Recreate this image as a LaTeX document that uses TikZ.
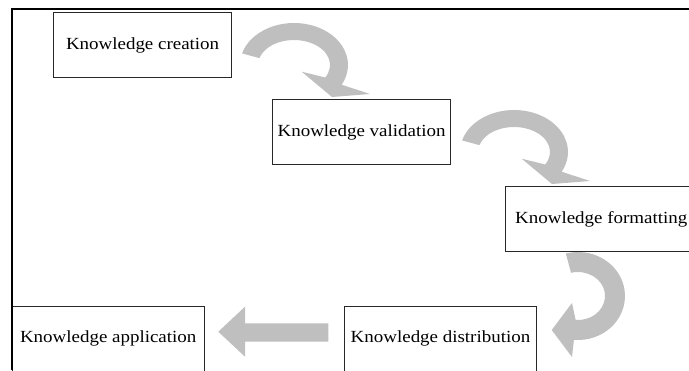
\documentclass[tikz,border=0pt]{standalone}
\usepackage{fontspec}
\setmainfont{Liberation Serif}[FakeStretch=1.115]
\usetikzlibrary{calc}
\definecolor{arrowgray}{RGB}{191,191,191}
\definecolor{boxline}{RGB}{40,40,40}
\tikzset{
  stage/.style={draw=boxline, line width=0.9pt, fill=white, minimum height=65pt,
    inner sep=0pt, font=\fontsize{17}{20}\selectfont},
  blockarrow/.style={fill=arrowgray, draw=none},
  % curved block arrow turning clockwise over the top, head pointing down
  curvearrow/.pic={
    \fill[blockarrow] (164:54 and 42)
      arc[start angle=164, end angle=-28, x radius=54, y radius=42]
      -- (76,-29) -- (38,-32) -- (7.7,-6.7)
      -- (-30:36 and 25)
      arc[start angle=-30, end angle=164, x radius=36, y radius=25]
      -- cycle;
  }
}
\begin{document}
\begin{tikzpicture}[x=1pt, y=1pt]
\useasboundingbox (0,0) rectangle (689,370);
\clip (0,0) rectangle (689,370);

% centres of the curved arrows
\coordinate (turnA) at (294,305);
\coordinate (turnB) at (514,218);
\coordinate (turnC) at (578,74);

% curved arrows between the stages
\pic at (turnA) {curvearrow};
\pic at (turnB) {curvearrow};
\fill[blockarrow] ($(turnC)+(105:47 and 44)$)
  arc[start angle=105, end angle=-95, x radius=47, y radius=44]
  -- (572,13) -- (551.7,40) -- (572,67)
  -- ($(turnC)+(-95:27 and 24)$)
  arc[start angle=-95, end angle=105, x radius=27, y radius=24]
  -- cycle;

% straight arrow pointing left
\fill[blockarrow] (328.3,46.7) -- (245,46.7) -- (245,63.3) -- (218.3,38.3)
  -- (245,13.3) -- (245,28.3) -- (328.3,28.3) -- cycle;

% stages
\node[stage, minimum width=178pt]   (create) at (142.6,324.8) {Knowledge creation};
\node[stage, minimum width=178.4pt] (valid)  at (361.6,238)   {Knowledge validation};
\node[stage, minimum width=192pt]   (format) at (601.3,150.8) {Knowledge formatting};
\node[stage, minimum width=192.3pt] (apply)  at (108.2,31.5)  {Knowledge application};
\node[stage, minimum width=192pt]   (distr)  at (440.5,31.5)  {Knowledge distribution};

% outer frame
\coordinate (frameBL) at (11.7,0);
\coordinate (frameTL) at (11.7,360.7);
\coordinate (frameTR) at (689,360.7);
\draw[line width=1.6pt] (frameBL) -- (frameTL) -- (frameTR);
\end{tikzpicture}
\end{document}
